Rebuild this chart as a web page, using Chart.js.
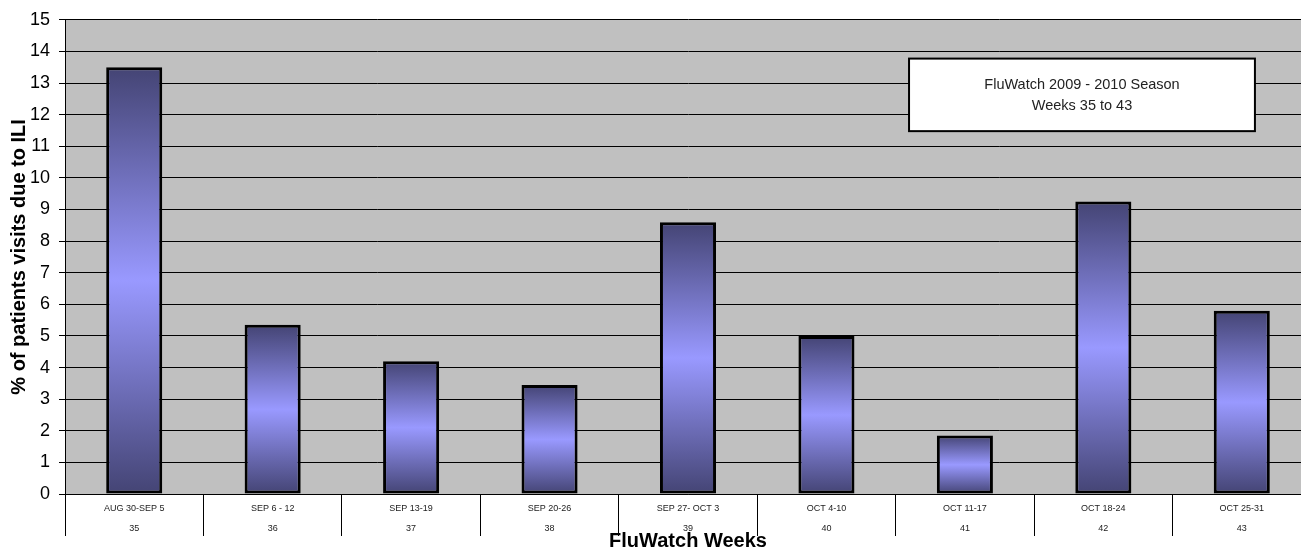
<!DOCTYPE html>
<html>
<head>
<meta charset="utf-8">
<title>FluWatch 2009 - 2010 Season</title>
<script src="https://cdn.jsdelivr.net/npm/chart.js@4/dist/chart.umd.min.js"></script>
<style>
  html, body { margin: 0; padding: 0; background: #ffffff; overflow: hidden; }
  #wrap { width: 1311px; height: 551px; }
  canvas { display: block; }
</style>
</head>
<body>
<div id="wrap"><canvas id="ili" width="1311" height="551"></canvas></div>
<script>
// Week date ranges (first label line) and FluWatch week numbers (second line)
const weekRanges = ['AUG 30-SEP 5', 'SEP 6 - 12', 'SEP 13-19', 'SEP 20-26', 'SEP 27- OCT 3',
                    'OCT 4-10', 'OCT 11-17', 'OCT 18-24', 'OCT 25-31'];
const weekNumbers = ['35', '36', '37', '38', '39', '40', '41', '42', '43'];
// Percentage of patient visits due to influenza-like illness
const iliPercent = [13.5, 5.35, 4.2, 3.45, 8.6, 5.0, 1.85, 9.25, 5.8];
// Text shown in the boxed caption
const captionLines = ['FluWatch 2009 - 2010 Season', 'Weeks 35 to 43'];

const FONT = "'Liberation Sans', Arial, Helvetica, sans-serif";
const BAR_DARK = 'rgb(68,68,116)';
const BAR_LIGHT = 'rgb(153,153,255)';

// Bars shade dark at both ends and light in the middle
function barGradient(ctx) {
  const chart = ctx.chart;
  if (ctx.type !== 'data' || !chart.scales || !chart.scales.y) return BAR_DARK;
  const y = chart.scales.y;
  const top = y.getPixelForValue(ctx.raw);
  const base = y.getPixelForValue(0);
  if (!isFinite(top) || !isFinite(base) || top === base) return BAR_DARK;
  const g = chart.ctx.createLinearGradient(0, top, 0, base);
  g.addColorStop(0, BAR_DARK);
  g.addColorStop(0.5, BAR_LIGHT);
  g.addColorStop(1, BAR_DARK);
  return g;
}

// Grey plot background
const plotBackground = {
  id: 'plotBackground',
  beforeDraw(chart) {
    const { ctx, chartArea: a } = chart;
    ctx.save();
    ctx.fillStyle = '#c0c0c0';
    ctx.fillRect(a.left, a.top, a.right - a.left, a.bottom - a.top);
    ctx.restore();
  }
};

// White caption box in the upper right of the plot
const captionBox = {
  id: 'captionBox',
  afterDatasetsDraw(chart) {
    const { ctx, chartArea: a } = chart;
    const w = a.right - a.left, h = a.bottom - a.top;
    const x0 = a.left + w * 0.6774, x1 = a.left + w * 0.955;
    const y0 = a.top + h * 0.0818, y1 = a.top + h * 0.2348;
    ctx.save();
    ctx.fillStyle = '#ffffff';
    ctx.fillRect(x0, y0, x1 - x0, y1 - y0);
    ctx.strokeStyle = '#000000';
    ctx.lineWidth = 2;
    ctx.strokeRect(x0, y0, x1 - x0, y1 - y0);
    ctx.fillStyle = '#222222';
    ctx.font = '14.5px ' + FONT;
    ctx.textAlign = 'center';
    ctx.textBaseline = 'middle';
    const cx = (x0 + x1) / 2, cy = (y0 + y1) / 2;
    ctx.fillText(captionLines[0], cx, cy - 9.5);
    ctx.fillText(captionLines[1], cx, cy + 11);
    ctx.restore();
  }
};

new Chart(document.getElementById('ili'), {
  type: 'bar',
  data: {
    labels: weekRanges.map((r, i) => [r, weekNumbers[i]]),
    datasets: [{
      data: iliPercent,
      backgroundColor: barGradient,
      borderColor: '#000000',
      borderWidth: 3,
      borderSkipped: false,
      barPercentage: 0.405,
      categoryPercentage: 1.0
    }]
  },
  options: {
    responsive: false,
    animation: false,
    events: [],
    layout: { padding: { top: 18, right: 0, bottom: 0, left: 0 } },
    plugins: {
      legend: { display: false },
      tooltip: { enabled: false }
    },
    scales: {
      x: {
        offset: true,
        grid: {
          offset: true,
          drawOnChartArea: false,
          drawTicks: true,
          tickLength: 42,
          color: '#000000',
          lineWidth: 1
        },
        border: { display: true, color: '#000000', width: 1 },
        ticks: {
          autoSkip: false,
          maxRotation: 0,
          minRotation: 0,
          padding: -37,
          color: '#222222',
          font: { family: FONT, size: 9, lineHeight: 2.2 }
        },
        title: {
          display: true,
          text: 'FluWatch Weeks',
          color: '#000000',
          font: { family: FONT, size: 20, weight: 'bold', lineHeight: 1.2 },
          padding: { top: 0, bottom: -2 }
        },
        afterFit(scale) { scale.height = 57; }
      },
      y: {
        min: 0,
        max: 15,
        ticks: {
          stepSize: 1,
          padding: 9,
          color: '#000000',
          font: { family: FONT, size: 18 }
        },
        grid: {
          color: '#000000',
          lineWidth: 1,
          drawTicks: true,
          tickLength: 6,
          tickColor: '#000000'
        },
        border: { display: true, color: '#000000', width: 1 },
        title: {
          display: true,
          text: '% of patients visits due to ILI',
          color: '#000000',
          font: { family: FONT, size: 20, weight: 'bold', lineHeight: 1.2 },
          padding: { top: 7, bottom: 0 }
        },
        afterFit(scale) { scale.width = 65; }
      }
    }
  },
  plugins: [plotBackground, captionBox]
});
</script>
</body>
</html>
